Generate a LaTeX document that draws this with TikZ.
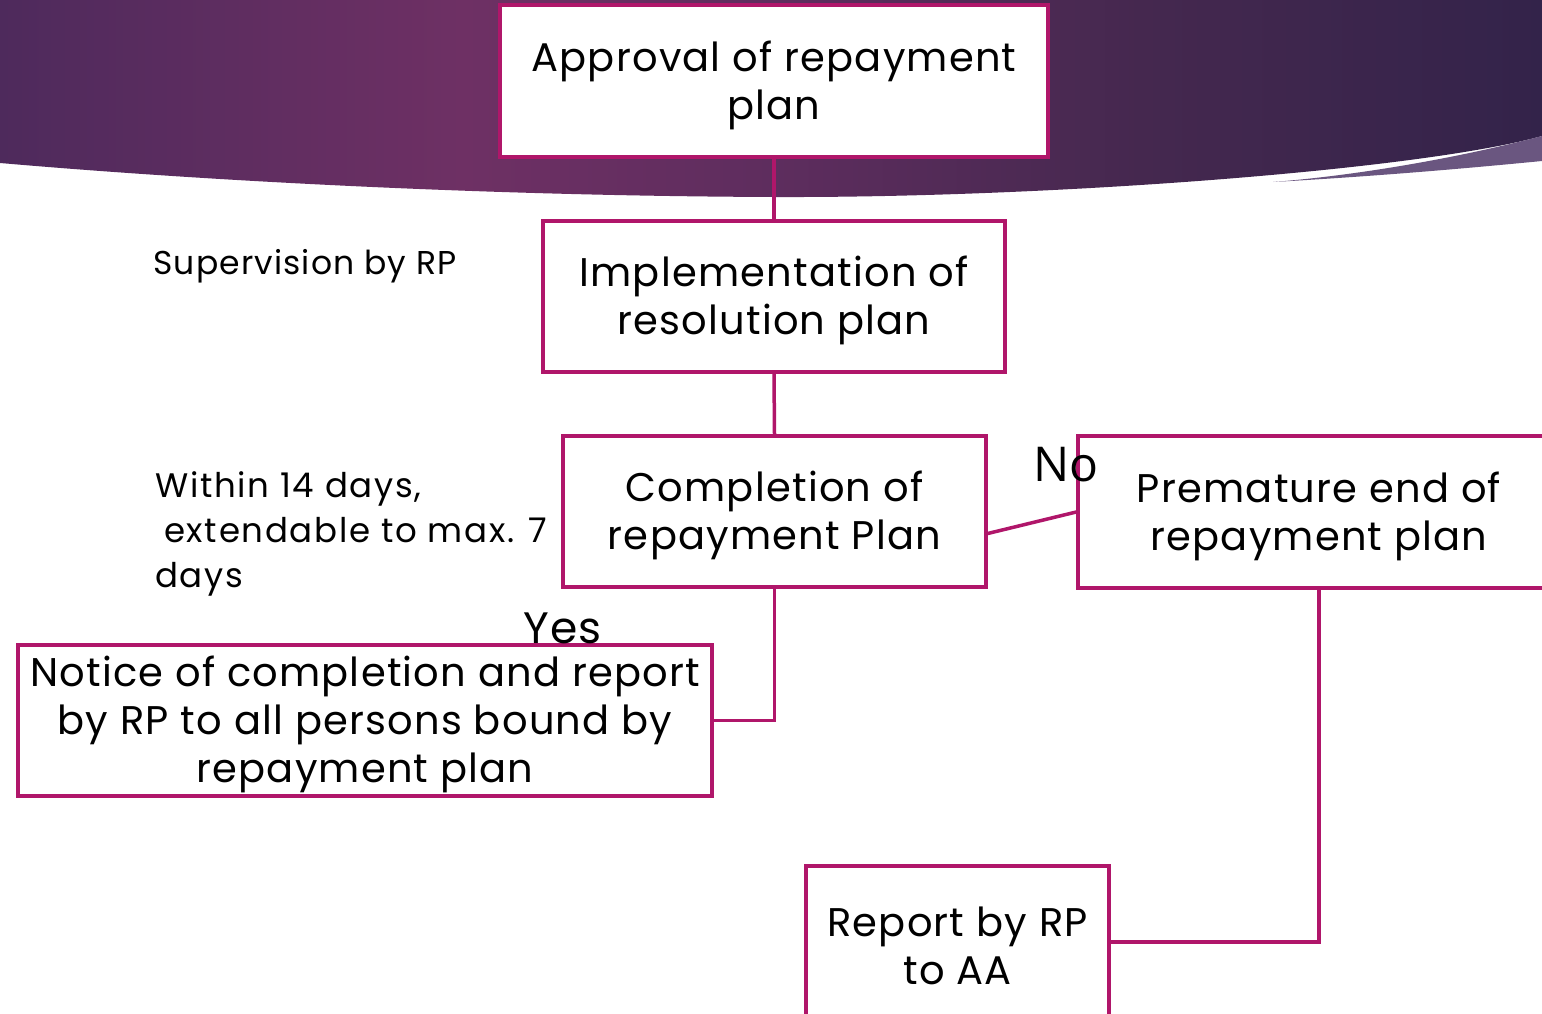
\documentclass[tikz,border=0pt]{standalone}
\usepackage{fontspec}
\setmainfont{Poppins}[LetterSpace=3.0]
\newfontfamily\nofont{Open Sans}
\newfontfamily\sidefont{Poppins}[LetterSpace=5.0]
\newfontfamily\supfont{Poppins}[LetterSpace=3.5]
\usetikzlibrary{positioning}
\definecolor{boxline}{HTML}{B0166A}
\definecolor{bgA}{HTML}{4E2A5C}
\definecolor{bgB}{HTML}{6E3064}
\definecolor{bgC}{HTML}{5E2D5E}
\definecolor{bgD}{HTML}{45284F}
\definecolor{bgE}{HTML}{33234A}
\definecolor{bandcol}{HTML}{6A5680}
\pgfdeclarehorizontalshading{bgshade}{100bp}{color(0bp)=(bgA); color(25bp)=(bgA); color(40bp)=(bgB); color(50bp)=(bgC); color(62bp)=(bgD); color(75bp)=(bgE); color(100bp)=(bgE)}
\tikzset{
  flowbox/.style={draw=boxline, line width=3.5pt, fill=white, inner sep=0pt},
  boxtext/.style={align=center, inner sep=0pt, yshift=-4pt, font=\fontsize{40}{48}\selectfont},
  conn/.style={draw=boxline, line width=3.5pt},
  sidenote/.style={inner sep=0pt, align=left, font=\sidefont\fontsize{34}{45}\selectfont},
}
\begin{document}
\begin{tikzpicture}[x=1pt,y=-1pt]
\path[use as bounding box, fill=white] (0,0) rectangle (1542,1014);
\clip (0,0) rectangle (1542,1014);
% background header
\path[shading=bgshade] (0,0) -- (1542,0) -- (1542,136)
  .. controls (1420,170) and (1050,198) .. (775,197)
  .. controls (500,196) and (220,182) .. (0,163) -- cycle;
\path[fill=bandcol] (1542,136) .. controls (1450,160) and (1350,176) .. (1273,182)
  .. controls (1380,176) and (1470,168) .. (1542,161) -- cycle;
% boxes
\node[flowbox, minimum width=548pt, minimum height=152pt,
  label={[boxtext]center:{Approval of repayment\\plan}}] (appr) at (774,81) {};
\node[flowbox, minimum width=462pt, minimum height=151pt,
  label={[boxtext]center:{Implementation of\\resolution plan}}] (impl) at (774,296.5) {};
\node[flowbox, minimum width=423pt, minimum height=151pt,
  label={[boxtext]center:{Completion of\\repayment Plan}}] (comp) at (774.5,511.5) {};
\node[flowbox, minimum width=482pt, minimum height=152pt,
  label={[boxtext]center:{Premature end of\\repayment plan}}] (prem) at (1319,512) {};
\node[flowbox, minimum width=694pt, minimum height=151pt,
  label={[boxtext]center:{Notice of completion and report\\by RP to all persons bound by\\repayment plan}}] (notice) at (365,720.5) {};
\node[flowbox, minimum width=303pt, minimum height=152pt,
  label={[boxtext]center:{Report by RP\\to AA}}] (report) at (957.5,942) {};
% connectors
\draw[conn] (appr.south) -- (impl.north);
\draw[conn] (impl.south) -- (comp.north);
\draw[conn] ([yshift=-22pt]comp.east) -- (prem.west);
\draw[conn] (comp.south) |- (notice.east);
\draw[conn] (prem.south) |- (report.east);
% labels
\node[inner sep=0pt, anchor=west, font=\supfont\fontsize{33}{45}\selectfont] (sup) at (153,266) {Supervision by RP};
\node[sidenote, anchor=north west] (within) at (155,471) {Within 14 days,\\\hspace*{9pt}extendable to max. 7\\days};
\node[inner sep=0pt, anchor=west, font=\nofont\fontsize{48}{50}\selectfont] (no) at (1033,465) {No};
\node[inner sep=0pt, anchor=west, font=\fontsize{44}{50}\selectfont] (yes) at (523,628) {Yes};
\end{tikzpicture}
\end{document}
